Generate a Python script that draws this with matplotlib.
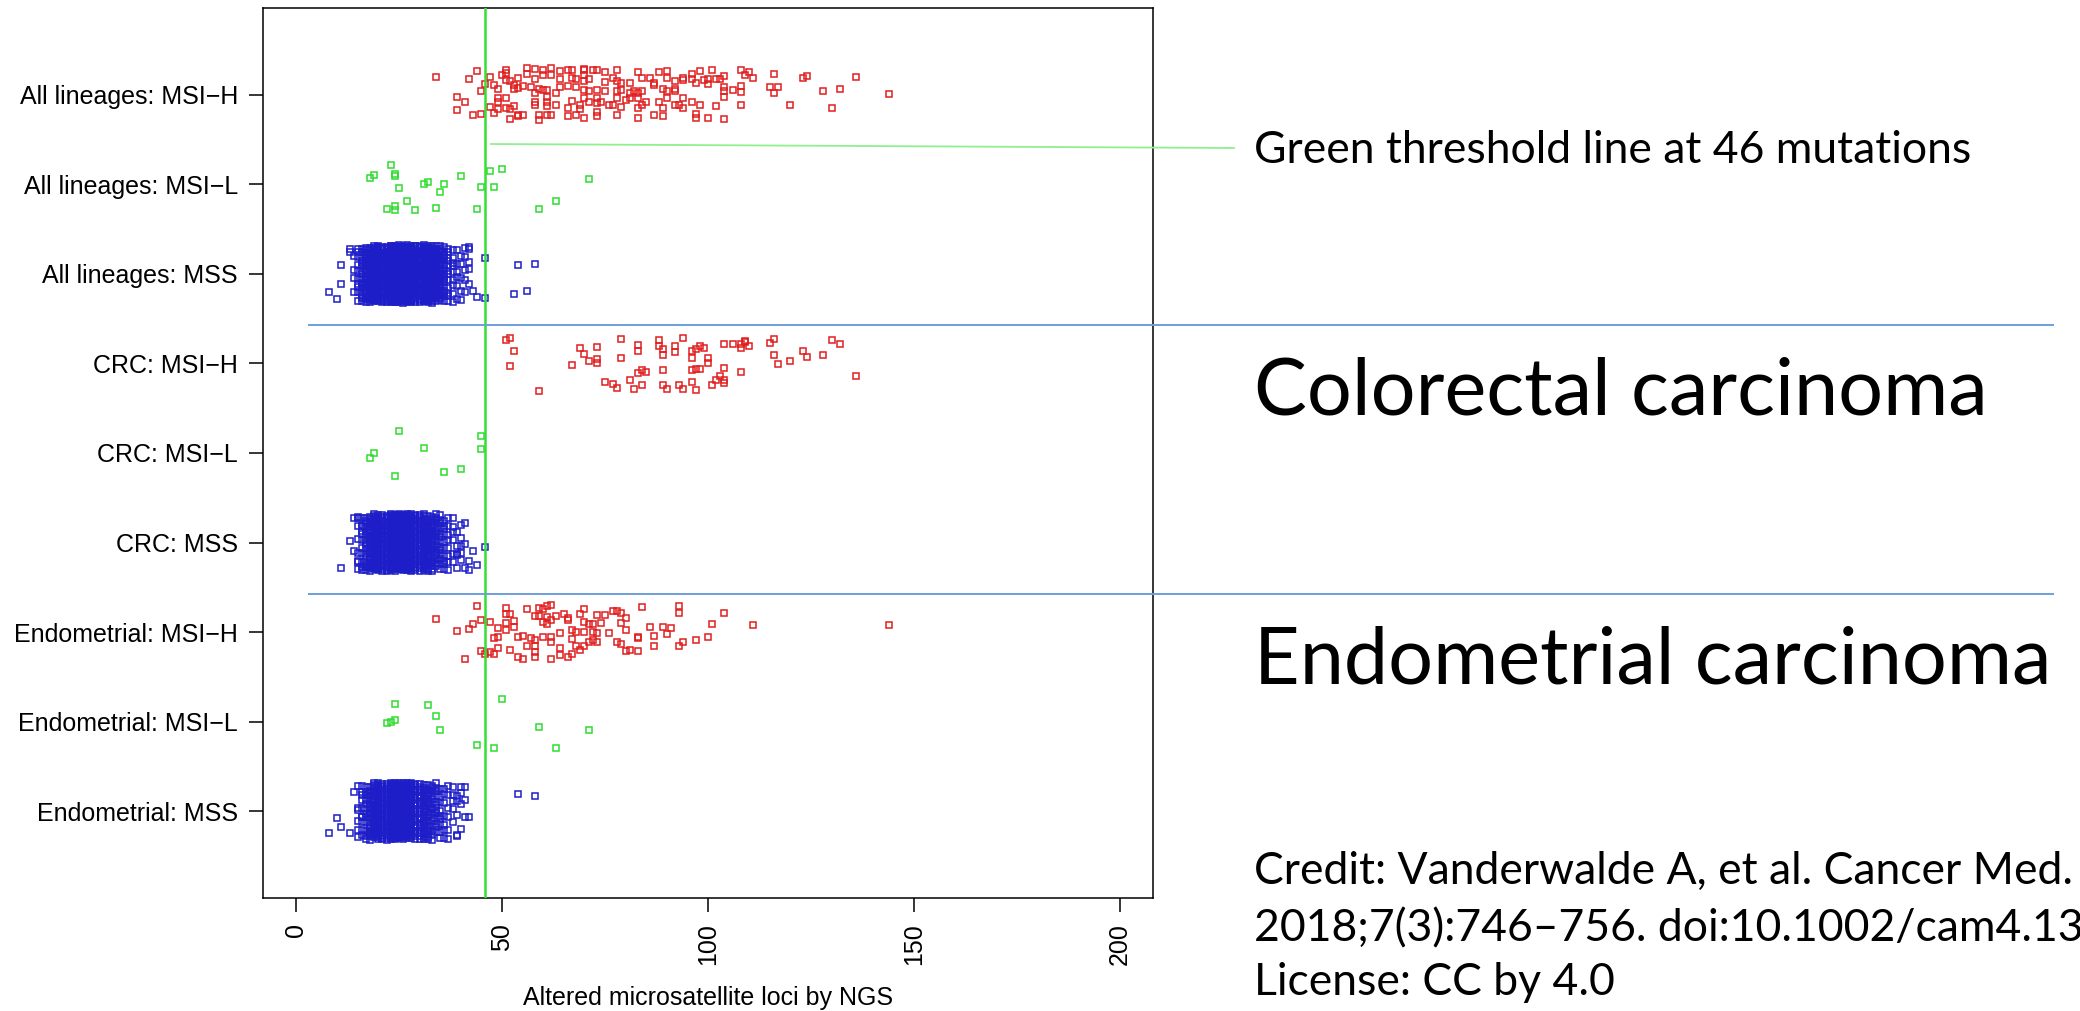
import numpy as np
import matplotlib
matplotlib.use('Agg')
import matplotlib.pyplot as plt
from matplotlib.lines import Line2D

plt.rcParams['font.family'] = ['Liberation Sans', 'DejaVu Sans']

W, H = 2080, 1011

categories = ['All lineages: MSI\u2212H', 'All lineages: MSI\u2212L', 'All lineages: MSS',
              'CRC: MSI\u2212H', 'CRC: MSI\u2212L', 'CRC: MSS',
              'Endometrial: MSI\u2212H', 'Endometrial: MSI\u2212L', 'Endometrial: MSS']
xticks = [0, 50, 100, 150, 200]
threshold = 46

# --- All lineages: MSI-H (loci, vertical jitter)
all_h_loci = [34, 42, 44, 47, 46, 45, 39, 41, 39, 43, 45, 47, 48, 49, 48, 49, 49, 49, 50, 51,
              51, 51, 52, 53, 53, 54, 54, 55, 56, 56, 58, 58, 60, 60, 62, 62, 64, 64, 66, 67,
              68, 67, 70, 70, 70, 70, 71, 72, 73, 75, 77, 78, 78, 79, 81, 83, 84, 86, 87, 88,
              90, 90, 92, 94, 96, 98, 100, 101, 102, 100, 57, 59, 60, 61, 61, 63, 64, 66, 68, 70,
              71, 73, 75, 75, 78, 79, 78, 81, 82, 83, 84, 83, 87, 89, 90, 92, 94, 96, 97, 51,
              53, 51, 52, 54, 54, 52, 55, 58, 58, 61, 58, 59, 59, 61, 62, 61, 63, 66, 66, 67,
              68, 69, 69, 70, 70, 71, 73, 73, 73, 73, 74, 76, 77, 79, 78, 80, 81, 83, 83, 84,
              85, 87, 88, 89, 89, 90, 92, 92, 93, 94, 94, 96, 97, 97, 98, 100, 102,
              99, 103, 104, 104, 104, 104, 106, 108, 109, 110, 111, 108, 108, 116, 115, 117, 116, 123, 124, 128,
              132, 136, 144, 108, 120, 130, 104]
all_h_jit = [0.20, 0.18, 0.27, 0.20, 0.12, 0.04, -0.02, -0.08, -0.17, -0.23, -0.21, -0.14, -0.20, -0.16, 0.11, 0.07, -0.03, -0.08, 0.22, 0.28,
             0.24, 0.17, 0.15, 0.11, 0.07, 0.19, 0.08, 0.10, 0.30, 0.23, 0.29, 0.18, 0.28, 0.22, 0.30, 0.22, 0.27, 0.18, 0.28, 0.28,
             0.18, 0.19, 0.29, 0.28, 0.22, 0.15, 0.18, 0.28, 0.28, 0.25, 0.19, 0.28, 0.15, 0.13, 0.13, 0.25, 0.19, 0.19, 0.13, 0.25,
             0.27, 0.19, 0.15, 0.19, 0.23, 0.27, 0.18, 0.28, 0.18, 0.12, 0.09, 0.07, 0.05, 0.05, -0.02, 0.02, 0.09, 0.10, 0.09, 0.05,
             0.04, 0.05, 0.14, 0.04, 0.04, 0.05, -0.04, 0.02, 0.04, 0.02, 0.04, -0.03, 0.11, 0.07, 0.04, 0.07, 0.17, 0.18, 0.13, -0.04,
             -0.13, -0.15, -0.16, -0.22, -0.24, -0.27, -0.22, -0.08, -0.11, -0.08, 0.02, -0.22, -0.28, -0.13, -0.22, -0.23, -0.11, -0.15, -0.24, -0.07,
             -0.22, -0.11, -0.16, -0.04, -0.26, -0.08, -0.04, -0.09, -0.19, -0.24, -0.08, -0.11, -0.11, -0.14, -0.23, -0.06, -0.04, -0.15, -0.26, -0.11,
             -0.08, -0.22, -0.08, -0.15, -0.24, -0.04, 0.04, -0.11, -0.11, -0.04, -0.15, -0.08, -0.21, -0.26, -0.11, -0.26, -0.13,
             0.17, 0.18, 0.21, 0.09, 0.04, -0.02, 0.05, 0.28, 0.22, 0.25, 0.19, 0.10, 0.03, 0.23, 0.09, 0.09, 0.02, 0.19, 0.21, 0.04,
             0.07, 0.20, 0.01, -0.11, -0.11, -0.15, -0.27]

# --- All lineages: MSI-L
all_l_loci = [23, 18, 19, 24, 24, 25, 27, 22, 24, 24, 29, 31, 32, 35, 36, 34, 40, 44, 45, 47, 48, 50, 59, 63, 71]
all_l_jit = [0.22, 0.07, 0.10, 0.12, 0.09, -0.04, -0.19, -0.27, -0.24, -0.29, -0.29, 0.00, 0.03, -0.08, 0.00,
             -0.26, 0.09, -0.28, -0.03, 0.15, -0.03, 0.17, -0.27, -0.18, 0.06]

# --- All lineages: MSS (dense core as counts per loci value, plus outlying cases)
all_s_core_loci = [14, 15, 16, 17, 18, 19, 20, 21, 22, 23, 24, 25, 26, 27, 28, 29, 30, 31, 32, 33,
                   34, 35, 36, 37, 38, 39, 40, 41, 42]
all_s_core_n = [4, 10, 16, 22, 28, 34, 40, 46, 50, 54, 56, 56, 56, 54, 52, 50, 46, 42, 38, 34,
                28, 22, 16, 12, 9, 6, 5, 4, 3]
all_s_out_loci = [11, 11, 8, 10, 13, 13, 42, 42, 41, 43, 44, 46, 46, 54, 58, 53, 56]
all_s_out_jit = [0.10, -0.11, -0.20, -0.28, 0.28, 0.24, 0.30, 0.06, -0.07, -0.19, -0.26, 0.18, -0.27, 0.10, 0.11, -0.22, -0.19]

# --- CRC: MSI-H
crc_h_loci = [51, 52, 53, 52, 59, 67, 69, 70, 71, 73, 73, 73, 75, 77, 78, 79, 79, 81, 82, 83,
              83, 83, 84, 85, 84, 88, 88, 89, 89, 89, 89, 90, 92, 92, 93, 94, 94, 96, 96, 96,
              96, 97, 97, 98, 99, 97, 98, 100, 100, 101, 102, 103, 104, 104, 104, 104, 106, 108, 108, 109,
              109, 110, 108, 115, 116, 116, 117, 120, 123, 124, 128, 130, 132, 136]
crc_h_jit = [0.26, 0.28, 0.14, -0.03, -0.31, -0.02, 0.17, 0.11, 0.03, 0.18, 0.05, 0.00, -0.21, -0.23, -0.27, 0.27, 0.06, -0.19, -0.28, 0.21,
             0.14, -0.11, -0.07, -0.10, -0.24, 0.26, 0.19, 0.16, 0.10, -0.07, -0.24, -0.28, 0.20, 0.13, -0.24, 0.28, -0.28, 0.14, 0.06, -0.07,
             -0.21, -0.30, 0.16, 0.19, 0.17, -0.06, -0.06, 0.06, 0.00, -0.24, -0.19, -0.14, -0.05, -0.19, -0.22, 0.22, 0.22, 0.22, 0.17, 0.24,
             0.25, 0.20, -0.09, 0.23, 0.27, 0.09, -0.01, 0.03, 0.14, 0.07, 0.10, 0.26, 0.22, -0.14]

# --- CRC: MSI-L
crc_l_loci = [25, 18, 19, 24, 31, 36, 40, 45, 45]
crc_l_jit = [0.25, -0.06, 0.00, -0.26, 0.06, -0.21, -0.18, 0.19, 0.05]

# --- CRC: MSS
crc_s_core_loci = [15, 16, 17, 18, 19, 20, 21, 22, 23, 24, 25, 26, 27, 28, 29, 30, 31, 32, 33, 34,
                   35, 36, 37, 38, 39, 40]
crc_s_core_n = [5, 10, 16, 22, 28, 34, 38, 42, 44, 44, 44, 42, 40, 38, 35, 32, 28, 24, 20, 16,
                13, 10, 8, 6, 4, 3]
crc_s_out_loci = [11, 13, 14, 14, 15, 16, 15, 15, 17, 41, 40, 41, 43, 40, 39, 42, 44, 41, 42, 46]
crc_s_out_jit = [-0.28, 0.02, -0.10, 0.27, 0.27, 0.19, -0.22, -0.29, -0.27, 0.22, 0.05, -0.02, -0.09, -0.12, -0.14, -0.21, -0.25, -0.28, -0.31, -0.05]

# --- Endometrial: MSI-H
end_h_loci = [34, 39, 41, 42, 43, 44, 45, 45, 46, 47, 47, 48, 48, 49, 49, 49, 51, 51, 51, 51,
              52, 53, 53, 52, 54, 54, 55, 55, 56, 56, 57, 58, 58, 58, 58, 58, 59, 59, 60, 60,
              60, 61, 61, 61, 62, 62, 62, 62, 62, 63, 64, 64, 64, 65, 66, 66, 66, 67, 67, 67,
              68, 68, 69, 69, 70, 70, 70, 70, 71, 71, 72, 72, 72, 73, 73, 73, 74, 75, 76, 77,
              78, 78, 79, 79, 79, 80, 80, 80, 81, 83, 83, 83, 84, 86, 87, 87, 89, 90, 91, 93,
              93, 93, 94, 97, 100, 101, 104, 111, 144]
end_h_jit = [0.15, 0.01, -0.30, 0.03, 0.09, 0.29, 0.13, -0.21, -0.24, 0.11, -0.22, -0.24, -0.07, 0.04, -0.05, -0.18, 0.27, 0.20, 0.10, 0.02,
             0.20, 0.12, 0.06, -0.20, -0.05, -0.28, -0.30, -0.04, 0.26, -0.15, -0.07, 0.18, -0.09, -0.15, -0.22, -0.28, 0.27, 0.18, 0.11, -0.05,
             0.26, 0.29, 0.17, 0.09, 0.30, 0.14, -0.05, -0.11, -0.30, 0.18, -0.01, -0.18, -0.26, 0.20, 0.16, 0.13, -0.28, -0.24, -0.08, 0.02,
             -0.15, 0.00, 0.20, -0.20, 0.26, 0.00, -0.15, 0.11, 0.09, -0.11, 0.09, 0.00, -0.09, 0.19, -0.01, -0.11, 0.10, 0.19, -0.01, 0.24,
             0.24, -0.11, 0.21, 0.10, -0.13, 0.16, 0.02, -0.21, -0.20, -0.05, -0.07, -0.21, 0.28, 0.06, -0.04, -0.16, 0.06, -0.02, 0.04, 0.29,
             0.21, -0.15, -0.11, -0.09, -0.05, 0.09, 0.21, 0.08, 0.08]

# --- Endometrial: MSI-L
end_l_loci = [24, 32, 34, 35, 22, 23, 24, 44, 48, 50, 59, 63, 71]
end_l_jit = [0.20, 0.18, 0.06, -0.09, -0.01, 0.00, 0.02, -0.26, -0.30, 0.25, -0.06, -0.29, -0.09]

# --- Endometrial: MSS
end_s_core_loci = [15, 16, 17, 18, 19, 20, 21, 22, 23, 24, 25, 26, 27, 28, 29, 30, 31, 32, 33, 34,
                   35, 36, 37, 38, 39, 40]
end_s_core_n = [4, 8, 12, 18, 24, 30, 34, 36, 38, 38, 36, 34, 32, 30, 27, 24, 21, 18, 15, 12,
                9, 7, 5, 4, 3, 2]
end_s_out_loci = [8, 10, 11, 13, 15, 14, 16, 15, 16, 18, 39, 41, 42, 41, 40, 39, 38, 40, 41, 54, 58, 37]
end_s_out_jit = [-0.24, -0.08, -0.18, -0.24, -0.29, 0.21, 0.21, 0.01, -0.07, -0.24, -0.27, -0.07, -0.07, 0.13, 0.08, 0.17, 0.18, 0.27, 0.27, 0.19, 0.17, -0.31]

RED, GREEN, BLUE = '#e01e1e', '#2edc2e', '#1e1ec8'


def spread(loci, counts):
    # stack repeated loci values across the strip width (jitter layout)
    xs, js = [], []
    for v, n in zip(loci, counts):
        start = (v * 0.7548776662) % 1.0
        for k in range(n):
            xs.append(v)
            js.append((((start + k * 0.6180339887) % 1.0) - 0.5) * 0.64)
    return xs, js


groups = [
    (all_h_loci, all_h_jit, RED),
    (all_l_loci, all_l_jit, GREEN),
    None,
    (crc_h_loci, crc_h_jit, RED),
    (crc_l_loci, crc_l_jit, GREEN),
    None,
    (end_h_loci, end_h_jit, RED),
    (end_l_loci, end_l_jit, GREEN),
    None,
]
mss = {
    2: (all_s_core_loci, all_s_core_n, all_s_out_loci, all_s_out_jit),
    5: (crc_s_core_loci, crc_s_core_n, crc_s_out_loci, crc_s_out_jit),
    8: (end_s_core_loci, end_s_core_n, end_s_out_loci, end_s_out_jit),
}

fig = plt.figure(figsize=(W / 100, H / 100), dpi=100)
ax = fig.add_axes([263 / W, 1 - 898 / H, (1153 - 263) / W, (898 - 8) / H])

mk = dict(ls='none', marker='s', mfc='none', ms=3.7, mew=1.1)
for i, g in enumerate(groups):
    y0 = 9 - i
    if g is None:
        core_x, core_n, out_x, out_j = mss[i]
        xs, js = spread(core_x, core_n)
        xs = xs + out_x
        js = js + out_j
        ax.plot(xs, y0 + np.array(js), mec=BLUE, **mk)
    else:
        loci, jit, col = g
        ax.plot(loci, y0 + np.array(jit), mec=col, **mk)

ax.axvline(threshold, color='#33e033', lw=1.8, zorder=5)

ax.set_xlim(-8, 208)
ax.set_ylim(0.03, 9.97)
ax.set_xticks(xticks)
ax.set_xticklabels([str(t) for t in xticks], rotation=90, va='top', ha='center')
ax.set_yticks(range(9, 0, -1))
ax.set_yticklabels(categories)
ax.tick_params(axis='both', length=10, width=1.1, labelsize=18, pad=8)
for s in ax.spines.values():
    s.set_linewidth(1.1)
ax.set_xlabel('Altered microsatellite loci by NGS', fontsize=18, labelpad=15)

# slide annotations
def fx(px):
    return px / W


def fy(py):
    return 1 - py / H


fig.add_artist(Line2D([fx(491), fx(1234)], [fy(144), fy(148)], color='#8ef08e', lw=1.3))
for yy in (325, 594):
    fig.add_artist(Line2D([fx(309), fx(2053)], [fy(yy), fy(yy)], color='#6c9fdc', lw=1.4))

tf = dict(family=['Lato', 'DejaVu Sans'], color='black', va='baseline', ha='left')
fig.text(fx(1254), fy(163), 'Green threshold line at 46 mutations', fontsize=32, **tf)
fig.text(fx(1254), fy(415), 'Colorectal carcinoma', fontsize=57, **tf)
fig.text(fx(1254), fy(684), 'Endometrial carcinoma', fontsize=57, **tf)
fig.text(fx(1254), fy(884), 'Credit: Vanderwalde A, et al. Cancer Med.', fontsize=32, **tf)
fig.text(fx(1254), fy(941), '2018;7(3):746\u2013756. doi:10.1002/cam4.1372', fontsize=32, **tf)
fig.text(fx(1254), fy(995), 'License: CC by 4.0', fontsize=32, **tf)

fig.savefig('out.png', dpi=100)
